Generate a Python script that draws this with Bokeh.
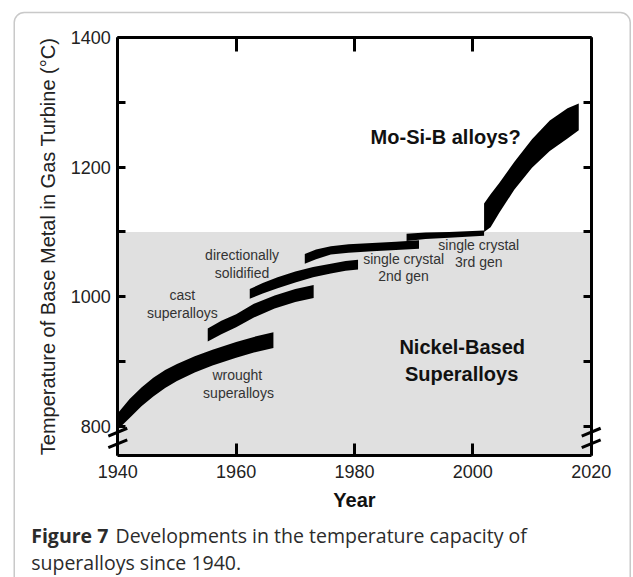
from bokeh.plotting import figure
from bokeh.models import Range1d, FixedTicker, LinearAxis, BoxAnnotation, Label
from bokeh.embed import file_html
from bokeh.resources import INLINE

# ---------------- data ----------------
year_ticks = [1940, 1960, 1980, 2000, 2020]
temp_ticks = [800, 1000, 1200, 1400]
temp_minor = [900, 1100, 1300]
year_lo, year_hi = 1940, 2020
temp_lo, temp_hi = 755, 1400
nickel_ceiling = 1100

wrought_year = [1940, 1942, 1944, 1946, 1948, 1950, 1953, 1956, 1960, 1963, 1966.3]
wrought_top = [820, 842, 860, 875, 887, 896, 908, 918, 930, 938, 945]
wrought_bot = [795, 813, 831, 846, 859, 870, 883, 894, 906, 914, 921]

cast_year = [1955.2, 1957.5, 1960, 1963, 1966.5, 1970, 1973.1]
cast_top = [951, 963, 973, 989, 1002, 1012, 1018]
cast_bot = [931, 942, 953, 968, 982, 992, 998]

ds_year = [1962.3, 1964.5, 1967, 1970, 1973, 1976, 1978.5, 1980.6]
ds_top = [1012, 1021, 1030, 1039, 1046, 1051, 1055, 1057]
ds_bot = [997, 1005, 1013, 1022, 1030, 1036, 1040, 1042]

sc2_year = [1971.6, 1973.5, 1976, 1979, 1983, 1987, 1990.9]
sc2_top = [1066, 1073, 1078, 1081, 1083, 1085, 1087]
sc2_bot = [1051, 1058, 1065, 1068, 1070, 1072, 1074]

sc3_year = [1988.8, 1992, 1996, 2001.9]
sc3_top = [1097, 1099, 1100, 1102]
sc3_bot = [1086, 1089, 1091, 1094]

mosib_year = [2001.9, 2003, 2004.5, 2007, 2010, 2013, 2016, 2017.9]
mosib_top = [1144, 1158, 1176, 1208, 1243, 1272, 1291, 1298]
mosib_bot = [1100, 1107, 1130, 1165, 1199, 1225, 1244, 1257]

bands = [
    (wrought_year, wrought_bot, wrought_top),
    (cast_year, cast_bot, cast_top),
    (ds_year, ds_bot, ds_top),
    (sc2_year, sc2_bot, sc2_top),
    (sc3_year, sc3_bot, sc3_top),
    (mosib_year, mosib_bot, mosib_top),
]

# ---------------- figure ----------------
FONT = "Liberation Sans"
# the frame fills the whole canvas; the axes sit at fixed data locations
p = figure(width=633, height=577, output_backend="svg", toolbar_location=None,
           x_range=Range1d(1920.18, 2027.15), y_range=Range1d(566.7, 1457.1),
           min_border=0, x_axis_type=None, y_axis_type=None)
p.outline_line_color = None
p.background_fill_color = "white"
p.border_fill_color = "white"

p.add_layout(BoxAnnotation(left=year_lo, right=year_hi, bottom=temp_lo, top=nickel_ceiling,
                           fill_color="#e0e0e0", fill_alpha=1.0, line_color=None,
                           level="underlay"))

for xs, lo, hi in bands:
    p.varea(x=xs, y1=lo, y2=hi, fill_color="black")


def make_axis(ticks, minor, loc, bounds, tick_in):
    ax = LinearAxis(ticker=FixedTicker(ticks=ticks, minor_ticks=minor),
                    fixed_location=loc, bounds=bounds)
    ax.axis_line_width = 3
    ax.axis_line_color = "black"
    ax.major_tick_in = tick_in
    ax.major_tick_out = 0
    ax.minor_tick_in = tick_in
    ax.minor_tick_out = 0
    ax.major_tick_line_width = 3
    ax.minor_tick_line_width = 3
    ax.major_label_text_font = FONT
    ax.major_label_text_font_size = "18px"
    ax.major_label_text_color = "#222222"
    return ax


xa = make_axis(year_ticks, [], temp_lo, (year_lo, year_hi), 12)
xa.major_label_standoff = 10
xa.axis_label = "Year"
xa.axis_label_text_font = FONT
xa.axis_label_text_font_style = "bold"
xa.axis_label_text_font_size = "20px"
xa.axis_label_text_color = "#111111"
xa.axis_label_standoff = 7
p.add_layout(xa, "below")

ya = make_axis(temp_ticks, temp_minor, year_lo, (temp_lo, temp_hi), 8)
ya.major_label_standoff = 7
ya.axis_label = "Temperature of Base Metal in Gas Turbine (°C)"
ya.axis_label_text_font = FONT
ya.axis_label_text_font_style = "normal"
ya.axis_label_text_font_size = "20px"
ya.axis_label_text_color = "#222222"
ya.axis_label_standoff = 8
p.add_layout(ya, "left")

top_ax = make_axis(year_ticks, [], temp_hi, (year_lo, year_hi), 14)
top_ax.major_label_text_color = None
p.add_layout(top_ax, "above")

right_ax = make_axis(temp_ticks, temp_minor, year_hi, (temp_lo, temp_hi), 8)
right_ax.major_label_text_color = None
p.add_layout(right_ax, "right")

# axis break marks
brk_x0, brk_x1 = [], []
brk_y0, brk_y1 = [], []
for xb in (year_lo, year_hi):
    for y0, y1 in ((785, 797), (767, 779)):
        brk_x0.append(xb - 1.6)
        brk_x1.append(xb + 1.6)
        brk_y0.append(y0)
        brk_y1.append(y1)
p.segment(x0=brk_x0, y0=brk_y0, x1=brk_x1, y1=brk_y1, line_width=3, line_color="black")


# annotations
def lab(x, y, text, size="14px", style="normal", color="#333333", font=FONT, align="center"):
    p.add_layout(Label(x=x, y=y, text=text, text_align=align, text_baseline="middle",
                       text_font=font, text_font_size=size, text_font_style=style,
                       text_color=color))


lab(1961.0, 1063.6, "directionally")
lab(1961.0, 1036.3, "solidified")
lab(1950.9, 1001.9, "cast")
lab(1950.9, 974.6, "superalloys")
lab(1960.2, 878.5, "wrought")
lab(1960.4, 851.1, "superalloys")
lab(1988.3, 1058.5, "single crystal")
lab(1988.3, 1031.2, "2nd gen")
lab(2001.0, 1080.2, "single crystal")
lab(2001.0, 1053.3, "3rd gen")
lab(1995.4, 1246.2, "Mo-Si-B alloys?", size="20px", style="bold", color="#111111")
lab(1998.2, 922.1, "Nickel-Based", size="20px", style="bold", color="#111111")
lab(1998.1, 881.1, "Superalloys", size="20px", style="bold", color="#111111")

# caption
lab(1925.37, 631.5, "Figure 7", size="19.5px", style="bold", color="#2b2b2b",
    font="Open Sans", align="left")
lab(1939.61, 631.5, "Developments in the temperature capacity of", size="19.5px",
    color="#2b2b2b", font="Open Sans", align="left")
lab(1925.37, 589.9, "superalloys since 1940.", size="19.5px", color="#2b2b2b",
    font="Open Sans", align="left")

# outer rounded frame
p.add_layout(BoxAnnotation(left=1922.5, right=2026.6, top=1438.6, bottom=546.7,
                           fill_alpha=0, line_color="#4d4d4d", line_width=1.5,
                           border_radius=10))

open("out.html", "w").write(file_html(p, INLINE))
